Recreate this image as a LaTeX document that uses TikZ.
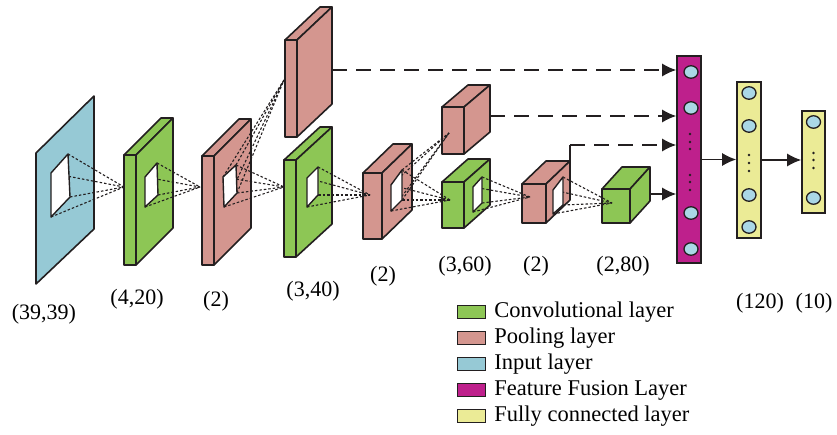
\documentclass[tikz,border=0pt]{standalone}
\usepackage{fontspec}
\setmainfont{Liberation Serif}
\usetikzlibrary{arrows.meta,calc,positioning,shapes.geometric}

\definecolor{edge}{RGB}{35,31,32}
\definecolor{convgreen}{RGB}{141,198,85}
\definecolor{poolpink}{RGB}{212,150,143}
\definecolor{inputblue}{RGB}{150,201,213}
\definecolor{fusemag}{RGB}{190,32,140}
\definecolor{fcyellow}{RGB}{235,235,150}
\definecolor{unitblue}{RGB}{170,215,230}

% #1 name, #2 colour, (#3,#4) front top-left, (#5,#6) front bottom-right, (#7,#8) depth
\newcommand{\layerbox}[8]{
  \coordinate (#1-a) at (#3,#4);
  \coordinate (#1-b) at (#5,#4);
  \coordinate (#1-c) at (#5,#6);
  \filldraw[box,fill=#2] (#3,#4) rectangle (#5,#6);
  \filldraw[box,fill=#2] (#1-a) -- ++(#7,#8) -- ($(#1-b)+(#7,#8)$) -- (#1-b) -- cycle;
  \filldraw[box,fill=#2] (#1-b) -- ++(#7,#8) -- ($(#1-c)+(#7,#8)$) -- (#1-c) -- cycle;
}
% window on a layer, corners named #1-1 .. #1-4
\newcommand{\holeat}[5]{
  \coordinate (#1-1) at #2;
  \coordinate (#1-2) at #3;
  \coordinate (#1-3) at #4;
  \coordinate (#1-4) at #5;
}

\begin{document}
\begin{tikzpicture}[x=1pt,y=-1pt,
  box/.style={draw=edge,line width=1.6pt,line join=round},
  hole/.style={draw=edge,fill=white,line width=1.4pt,line join=round},
  link/.style={draw=edge,line width=1.1pt,dash pattern=on 2.5pt off 2pt},
  feed/.style={draw=edge,line width=1.4pt,dash pattern=on 15pt off 9pt,-{Latex[length=14pt,width=13pt]}},
  flow/.style={draw=edge,line width=1.4pt,-{Latex[length=14pt,width=13pt]}},
  column/.style={rectangle,draw=edge,line width=1.6pt,inner sep=0pt,minimum width=24pt},
  unit/.style={ellipse,draw=edge,fill=unitblue,line width=1.3pt,inner sep=0pt,minimum width=14pt,minimum height=12.5pt},
  dim/.style={font=\fontsize{22}{26}\selectfont,inner sep=0pt},
  swatch/.style={rectangle,draw=edge,line width=1.5pt,inner sep=0pt,minimum width=28pt,minimum height=13pt},
  keytext/.style={font=\fontsize{22.5}{26}\selectfont,inner sep=0pt,anchor=west}]
\useasboundingbox (0,0) rectangle (837,435);

% input plane
\filldraw[box,fill=inputblue] (36,153) -- (94,96) -- (94,229) -- (36,284) -- cycle;

% conv and pooling layers
\layerbox{c1}{convgreen}{124}{155}{136}{265}{37}{-37}
\layerbox{p1}{poolpink}{202}{156}{214}{265}{37}{-37}
\layerbox{pa}{poolpink}{285}{40}{297}{137}{35}{-33}
\layerbox{c2}{convgreen}{284}{160}{296}{257}{36}{-33}
\layerbox{p2}{poolpink}{363}{173}{382}{239}{30}{-29}
\layerbox{pb}{poolpink}{442}{107}{464}{154}{26}{-22}
\layerbox{c3}{convgreen}{442}{182}{464}{228}{26}{-23}
\layerbox{p3}{poolpink}{522}{184}{546}{223}{24}{-23}
\layerbox{c4}{convgreen}{602}{189}{630}{223}{20}{-22}

% windows
\holeat{h0}{(51,173)}{(68,154)}{(70,197)}{(51,217)}
\holeat{h1}{(145,177)}{(157,163)}{(158,195)}{(145,207)}
\holeat{h2}{(223,177)}{(236,165)}{(237,193)}{(224,207)}
\holeat{h3}{(307,178)}{(318,167)}{(318,195)}{(307,207)}
\holeat{h4}{(391,185)}{(402,170)}{(402,200)}{(391,211)}
\holeat{h5}{(473,187)}{(482,177)}{(482,203)}{(473,212)}
\holeat{h6}{(553,190)}{(563,177)}{(563,205)}{(553,214)}

% where the windows meet the next layer
\coordinate (c1in) at (124,187);
\coordinate (p1in) at (200,187);
\coordinate (c2in) at (284,187);
\coordinate (pain) at (284,80);
\coordinate (p2in) at (370,195);
\coordinate (pbin) at (449,133);
\coordinate (c3in) at (450,200);
\coordinate (p3in) at (530,197);
\coordinate (c4in) at (612,203);

\foreach \h/\t in {h0/c1in,h1/p1in,h2/c2in,h2/pain,h3/p2in,h4/pbin,h4/c3in,h5/p3in,h6/c4in}
  \foreach \i in {1,...,4}
    \draw[link] (\h-\i) -- (\t);

\foreach \h in {h0,h1,h2,h3,h4,h5,h6}
  \filldraw[hole] (\h-1) -- (\h-2) -- (\h-3) -- (\h-4) -- cycle;

% fusion and fully connected columns
\node[column,fill=fusemag,minimum height=207pt] (fuse) at (689,159.5) {};
\foreach \y [count=\i] in {72,108,213,249}
  \node[unit] (fu\i) at (691,\y) {};
\foreach \y in {134,142,149,175,182,190}
  \fill[edge] (690,\y) circle (1.4pt);

\node[column,fill=fcyellow,minimum height=156pt] (fc1) at (749,160) {};
\foreach \y [count=\i] in {93,126,195,227}
  \node[unit] (fa\i) at (749,\y) {};
\foreach \y in {155,163,171}
  \fill[edge] (749,\y) circle (1.4pt);

\node[column,fill=fcyellow,minimum width=23pt,minimum height=102pt] (fc2) at (813.5,162) {};
\foreach \y [count=\i] in {122,198}
  \node[unit] (fb\i) at (813.5,\y) {};
\foreach \y in {153,160,168}
  \fill[edge] (813.5,\y) circle (1.4pt);

% feeds into the fusion layer
\coordinate (paout) at (332,70);
\coordinate (pbout) at (490,116);
\coordinate (p3top) at (570,145);
\coordinate (c4out) at (650,194);
\draw[edge,line width=1.4pt] ($(p3-b)+(24,-23)$) -- (p3top);
\draw[feed] (paout) -- (paout -| fuse.west);
\draw[feed] (pbout) -- (pbout -| fuse.west);
\draw[feed] (p3top) -- (p3top -| fuse.west);
\draw[flow] (c4out) -- (c4out -| fuse.west);
\draw[flow] (fuse.east) -- (fuse.east -| fc1.west);
\draw[flow] (fc1.east) -- (fc1.east -| fc2.west);

% sizes
\node[dim] (lin) at (44,314) {(39,39)};
\node[dim] (lc1) at (137,299) {(4,20)};
\node[dim] (lp1) at (216,301) {(2)};
\node[dim] (lc2) at (313,291) {(3,40)};
\node[dim] (lp2) at (383,276) {(2)};
\node[dim] (lc3) at (465,266) {(3,60)};
\node[dim] (lp3) at (536,266) {(2)};
\node[dim] (lc4) at (623,266) {(2,80)};
\node[dim] (lfa) at (760,303) {(120)};
\node[dim] (lfb) at (814,303) {(10)};

% legend
\foreach \c/\t [count=\i] in {convgreen/Convolutional layer,poolpink/Pooling layer,inputblue/Input layer,fusemag/Feature Fusion Layer,fcyellow/Fully connected layer}{
  \node[swatch,fill=\c] (key\i) at (471.5,{286+26*\i}) {};
  \node[keytext,right=8pt of key\i] (keyt\i) {\t};
}
\end{tikzpicture}
\end{document}
